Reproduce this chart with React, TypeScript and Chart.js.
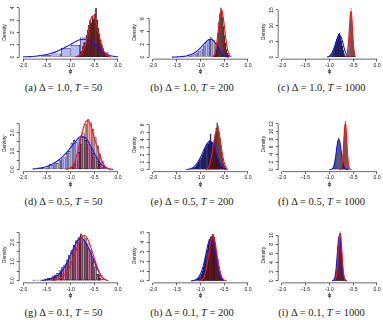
import React, { useEffect, useRef } from 'react';
import { Chart, registerables } from 'chart.js';

Chart.register(...registerables);

// ---------------- shared axis data ----------------
const xTicks = [-2, -1.5, -1, -0.5, 0];
const xTickLabels = ['-2.0', '-1.5', '-1.0', '-0.5', '0.0'];
const xMin = -2.08;
const xMax = 0.08;

// ---------------- (a) Delta = 1.0, T = 50 ----------------
const aBlueStart = -2.0, aBlueWidth = 0.2;
const aBlueHist = [0.05, 0.08, 0.15, 0.3, 0.75, 1.0, 1.6, 1.05, 0.45, 0.05];
const aRedStart = -0.875, aRedWidth = 0.025;
const aRedHist = [0.1, 0.15, 0.2, 0.4, 0.5, 0.9, 1.2, 1.0, 1.8, 2.2, 2.6, 3.0, 2.8, 3.3, 3.1, 3.5, 4.0, 3.0, 2.4, 1.9, 1.4, 1.0, 0.7, 0.4, 0.3, 0.15, 0.1];
const aBlueDensStart = -2.0, aBlueDensStep = 0.1;
const aBlueDens = [0.02, 0.04, 0.06, 0.1, 0.15, 0.22, 0.32, 0.45, 0.62, 0.82, 1.02, 1.25, 1.42, 1.45, 1.32, 1.05, 0.68, 0.38, 0.18, 0.07, 0.03];
const aRedDensStart = -0.9, aRedDensStep = 0.05;
const aRedDens = [0.02, 0.06, 0.15, 0.4, 0.85, 1.6, 2.6, 3.3, 3.35, 2.7, 1.8, 1.0, 0.5, 0.2, 0.08, 0.02];
const aYMax = 4.0;
const aYTicks = [0, 1, 2, 3, 4];
const aYLabels = ['0', '1', '2', '3', '4'];

// ---------------- (b) Delta = 1.0, T = 200 ----------------
const bBlueStart = -1.5, bBlueWidth = 0.05;
const bBlueHist = [0.05, 0.05, 0.1, 0.1, 0.15, 0.2, 0.3, 0.45, 0.7, 1.0, 1.35, 1.8, 2.3, 2.8, 3.1, 2.7, 2.2, 1.6, 0.9, 0.4, 0.15];
const bRedStart = -0.72, bRedWidth = 0.02;
const bRedHist = [0.2, 0.5, 1.2, 2.3, 3.8, 5.5, 6.8, 7.7, 7.3, 6.2, 4.8, 3.4, 2.2, 1.2, 0.6, 0.3, 0.1];
const bBlueDensStart = -1.6, bBlueDensStep = 0.05;
const bBlueDens = [0.01, 0.02, 0.04, 0.06, 0.09, 0.13, 0.19, 0.28, 0.4, 0.57, 0.8, 1.1, 1.45, 1.85, 2.25, 2.6, 2.78, 2.7, 2.35, 1.8, 1.15, 0.6, 0.25, 0.08, 0.02];
const bRedDensStart = -0.75, bRedDensStep = 0.025;
const bRedDens = [0.05, 0.2, 0.6, 1.4, 2.7, 4.3, 5.9, 7.0, 7.2, 6.4, 5.0, 3.4, 2.0, 1.0, 0.45, 0.15, 0.05];
const bYMax = 7.67;
const bYTicks = [0, 2, 4, 6];
const bYLabels = ['0', '2', '4', '6'];

// ---------------- (c) Delta = 1.0, T = 1000 ----------------
const cBlueStart = -1.04, cBlueWidth = 0.02;
const cBlueHist = [0.05, 0.15, 0.3, 0.6, 1.0, 1.7, 2.6, 3.6, 4.7, 5.8, 6.6, 7.3, 7.6, 6.6, 5.2, 3.6, 2.2, 1.1, 0.45, 0.15, 0.05];
const cRedStart = -0.64, cRedWidth = 0.01;
const cRedHist = [0.2, 0.5, 1.2, 2.4, 4.2, 6.5, 9.2, 12.0, 14.5, 15.6, 14.0, 11.5, 8.6, 5.8, 3.5, 1.8, 0.8, 0.3];
const cBlueDensStart = -1.05, cBlueDensStep = 0.025;
const cBlueDens = [0.05, 0.15, 0.35, 0.7, 1.3, 2.1, 3.1, 4.2, 5.3, 6.3, 6.9, 6.9, 6.2, 4.9, 3.4, 2.0, 0.95, 0.35, 0.1];
const cRedDensStart = -0.66, cRedDensStep = 0.01;
const cRedDens = [0.05, 0.15, 0.4, 0.9, 1.8, 3.2, 5.0, 7.2, 9.6, 12.0, 13.8, 14.6, 14.2, 12.6, 10.2, 7.6, 5.2, 3.2, 1.8, 0.9, 0.4, 0.15];
const cYMax = 16.1;
const cYTicks = [0, 5, 10, 15];
const cYLabels = ['0', '5', '10', '15'];

// ---------------- (d) Delta = 0.5, T = 50 ----------------
const dBlueStart = -1.8, dBlueWidth = 0.05;
const dBlueHist = [0.05, 0.0, 0.1, 0.1, 0.15, 0.1, 0.2, 0.3, 0.25, 0.4, 0.35, 0.5, 0.6, 0.7, 0.9, 1.0, 1.45, 1.6, 1.5, 1.7, 1.85, 1.8, 1.6, 1.4, 1.2, 0.9, 0.7, 0.45, 0.3, 0.15, 0.05];
const dRedStart = -1.15, dRedWidth = 0.05;
const dRedHist = [0.05, 0.05, 0.1, 0.15, 0.3, 0.55, 0.95, 1.4, 2.0, 2.45, 2.72, 2.55, 2.2, 1.75, 1.3, 0.85, 0.45, 0.15];
const dBlueDensStart = -1.8, dBlueDensStep = 0.1;
const dBlueDens = [0.03, 0.06, 0.1, 0.17, 0.27, 0.42, 0.62, 0.88, 1.18, 1.5, 1.78, 1.75, 1.4, 0.9, 0.45, 0.17, 0.05, 0.01];
const dRedDensStart = -1.1, dRedDensStep = 0.05;
const dRedDens = [0.02, 0.04, 0.1, 0.22, 0.5, 0.95, 1.5, 2.05, 2.48, 2.65, 2.55, 2.22, 1.75, 1.3, 0.9, 0.55, 0.28, 0.12, 0.04, 0.01];
const dYMax = 2.8;
const dYTicks = [0, 0.5, 1, 1.5, 2, 2.5];
const dYLabels = ['0.0', '', '1.0', '', '2.0', ''];

// ---------------- (e) Delta = 0.5, T = 200 ----------------
const eBlueStart = -1.25, eBlueWidth = 0.025;
const eBlueHist = [0.1, 0.1, 0.15, 0.2, 0.3, 0.4, 0.55, 0.8, 1.0, 1.3, 1.6, 2.0, 2.3, 2.8, 3.0, 3.4, 3.5, 3.9, 4.8, 3.7, 3.6, 3.1, 2.6, 2.1, 1.6, 1.1, 0.8, 0.5, 0.3, 0.15, 0.05];
const eRedStart = -0.86, eRedWidth = 0.02;
const eRedHist = [0.1, 0.25, 0.5, 0.9, 1.6, 2.4, 3.2, 4.0, 4.8, 5.6, 6.3, 5.9, 5.1, 4.3, 3.3, 2.4, 1.5, 0.9, 0.5, 0.2, 0.1];
const eBlueDensStart = -1.3, eBlueDensStep = 0.05;
const eBlueDens = [0.02, 0.06, 0.15, 0.32, 0.6, 1.05, 1.65, 2.35, 3.05, 3.6, 3.85, 3.6, 2.85, 1.85, 0.95, 0.38, 0.12, 0.03];
const eRedDensStart = -0.9, eRedDensStep = 0.025;
const eRedDens = [0.02, 0.06, 0.17, 0.4, 0.85, 1.5, 2.4, 3.4, 4.4, 5.1, 5.45, 5.3, 4.6, 3.6, 2.5, 1.6, 0.9, 0.45, 0.18, 0.06];
const eYMax = 6.67;
const eYTicks = [0, 1, 2, 3, 4, 5, 6];
const eYLabels = ['0', '1', '2', '3', '4', '5', '6'];

// ---------------- (f) Delta = 0.5, T = 1000 ----------------
const fBlueStart = -0.96, fBlueWidth = 0.01;
const fBlueHist = [0.06, 0.12, 0.21, 0.36, 0.6, 0.95, 1.43, 2.07, 2.87, 3.8, 4.83, 5.87, 7.0, 7.4, 8.1, 8.4, 7.9, 7.6, 6.83, 5.87, 4.83, 3.8, 2.87, 2.07, 1.43, 0.95, 0.6, 0.36, 0.21, 0.12, 0.06];
const fRedStart = -0.77, fRedWidth = 0.01;
const fRedHist = [0.11, 0.28, 0.64, 1.3, 2.4, 4.0, 6.1, 8.5, 10.6, 12.0, 12.7, 11.6, 9.8, 7.5, 5.3, 3.3, 1.9, 1.0, 0.46, 0.2];
const fBlueDensStart = -1.0, fBlueDensStep = 0.02;
const fBlueDens = [0.0, 0.02, 0.07, 0.21, 0.57, 1.3, 2.6, 4.4, 6.3, 7.65, 7.95, 7.05, 5.3, 3.4, 1.9, 0.88, 0.35, 0.12, 0.03, 0.01, 0.0];
const fRedDensStart = -0.8, fRedDensStep = 0.01;
const fRedDens = [0.0, 0.01, 0.03, 0.09, 0.22, 0.5, 1.04, 1.93, 3.28, 5.1, 7.3, 9.4, 11.1, 11.95, 11.75, 10.45, 8.55, 6.4, 4.4, 2.7, 1.53, 0.79, 0.37, 0.16, 0.06, 0.02, 0.01];
const fYMax = 13.4;
const fYTicks = [0, 2, 4, 6, 8, 10, 12];
const fYLabels = ['0', '2', '4', '6', '8', '10', '12'];

// ---------------- (g) Delta = 0.1, T = 50 ----------------
const gBlueStart = -1.8, gBlueWidth = 0.05;
const gBlueHist = [0.05, 0.05, 0.0, 0.05, 0.05, 0.1, 0.15, 0.15, 0.25, 0.3, 0.4, 0.55, 0.7, 0.85, 1.1, 1.35, 1.6, 1.85, 2.05, 2.2, 2.4, 2.1, 1.95, 1.7, 1.4, 1.05, 0.7, 0.35, 0.15];
const gRedStart = -1.8, gRedWidth = 0.05;
const gRedHist = [0.05, 0.0, 0.05, 0.05, 0.05, 0.1, 0.1, 0.15, 0.2, 0.25, 0.3, 0.4, 0.55, 0.75, 0.95, 1.2, 1.5, 1.8, 2.1, 2.3, 2.45, 2.35, 2.2, 1.95, 1.6, 1.15, 0.75, 0.35, 0.3, 0.1];
const gBlueDensStart = -1.6, gBlueDensStep = 0.05;
const gBlueDens = [0.02, 0.03, 0.05, 0.07, 0.1, 0.15, 0.22, 0.32, 0.45, 0.62, 0.83, 1.07, 1.35, 1.62, 1.88, 2.08, 2.18, 2.18, 2.05, 1.84, 1.58, 1.3, 1.0, 0.7, 0.44, 0.24, 0.1, 0.03];
const gRedDensStart = -1.4, gRedDensStep = 0.05;
const gRedDens = [0.02, 0.03, 0.05, 0.09, 0.15, 0.24, 0.37, 0.55, 0.8, 1.1, 1.45, 1.8, 2.1, 2.3, 2.35, 2.22, 1.95, 1.58, 1.18, 0.8, 0.48, 0.25, 0.11, 0.04, 0.01];
const gYMax = 2.69;
const gYTicks = [0, 0.5, 1, 1.5, 2, 2.5];
const gYLabels = ['0.0', '', '1.0', '', '2.0', ''];

// ---------------- (h) Delta = 0.1, T = 200 ----------------
const hBlueStart = -1.15, hBlueWidth = 0.025;
const hBlueHist = [0.05, 0.08, 0.12, 0.2, 0.3, 0.45, 0.7, 1.0, 1.4, 2.0, 2.6, 3.2, 3.8, 4.3, 4.5, 4.2, 3.7, 3.0, 2.3, 1.6, 1.05, 0.63, 0.35, 0.18];
const hRedStart = -1.05, hRedWidth = 0.025;
const hRedHist = [0.05, 0.1, 0.12, 0.2, 0.35, 0.6, 1.05, 1.7, 2.5, 3.35, 4.1, 4.65, 4.84, 4.55, 3.95, 3.15, 2.3, 1.55, 0.97, 0.55, 0.28];
const hBlueDensStart = -1.2, hBlueDensStep = 0.025;
const hBlueDens = [0.01, 0.02, 0.04, 0.07, 0.12, 0.2, 0.32, 0.5, 0.72, 1.02, 1.4, 1.88, 2.45, 3.05, 3.6, 4.05, 4.32, 4.32, 4.05, 3.52, 2.85, 2.13, 1.46, 0.92, 0.53, 0.28, 0.13, 0.05, 0.02];
const hRedDensStart = -1.05, hRedDensStep = 0.025;
const hRedDens = [0.01, 0.02, 0.04, 0.1, 0.22, 0.44, 0.8, 1.33, 2.04, 2.85, 3.65, 4.3, 4.67, 4.62, 4.2, 3.5, 2.67, 1.88, 1.2, 0.71, 0.38, 0.19, 0.09, 0.04, 0.01];
const hYMax = 5.16;
const hYTicks = [0, 1, 2, 3, 4, 5];
const hYLabels = ['0', '1', '2', '3', '4', '5'];

// ---------------- (i) Delta = 0.1, T = 1000 ----------------
const iBlueStart = -0.93, iBlueWidth = 0.01;
const iBlueHist = [0.05, 0.11, 0.23, 0.45, 0.81, 1.38, 2.2, 3.3, 4.7, 6.2, 7.7, 9.0, 9.9, 10.2, 9.9, 9.0, 7.7, 6.2, 4.7, 3.3, 2.2, 1.38, 0.81, 0.45, 0.23, 0.11, 0.05];
const iRedStart = -0.88, iRedWidth = 0.01;
const iRedHist = [0.28, 0.57, 1.05, 1.8, 2.9, 4.4, 6.05, 7.8, 9.4, 10.5, 10.85, 10.5, 9.4, 7.8, 6.05, 4.4, 2.9, 1.8, 1.05, 0.57, 0.28, 0.13, 0.05, 0.02];
const iBlueDensStart = -0.95, iBlueDensStep = 0.01;
const iBlueDens = [0.01, 0.02, 0.04, 0.1, 0.19, 0.37, 0.66, 1.14, 1.82, 2.74, 3.9, 5.3, 6.75, 8.0, 9.05, 9.63, 9.63, 9.05, 8.0, 6.75, 5.3, 3.9, 2.74, 1.82, 1.14, 0.66, 0.37, 0.19, 0.1, 0.04, 0.02, 0.01];
const iRedDensStart = -0.9, iRedDensStep = 0.01;
const iRedDens = [0.04, 0.1, 0.22, 0.45, 0.84, 1.47, 2.4, 3.6, 5.1, 6.7, 8.3, 9.5, 10.2, 10.2, 9.5, 8.3, 6.7, 5.1, 3.6, 2.4, 1.47, 0.84, 0.45, 0.22, 0.1, 0.04, 0.02, 0.01];
const iYMax = 11.26;
const iYTicks = [0, 2, 4, 6, 8, 10];
const iYLabels = ['0', '2', '4', '6', '8', '10'];

// ---------------- captions ----------------
const panelTags = ['a', 'b', 'c', 'd', 'e', 'f', 'g', 'h', 'i'];
const panelDeltas = ['1.0', '1.0', '1.0', '0.5', '0.5', '0.5', '0.1', '0.1', '0.1'];
const panelTs = ['50', '200', '1000', '50', '200', '1000', '50', '200', '1000'];

// ---------------- layout / style (not data) ----------------
const COL_LEFT = [19.2, 149.2, 278.2];
const PLOT_W = 102.6;
const ROW_BOTTOM = [59.15, 171.65, 282.85];
const PLOT_H = 58;
const CELL_X = [0, 128, 256];
const CELL_W = 127;
const CELL_Y = [0, 112, 223];
const CELL_H = 80;
const Y_AXIS_W = 18;
const X_AXIS_H = 16;
const TICK_LEN = 2.5;
const Y_LABEL_OFFSET = 6.8;
const CAPTION_X = [63.5, 192, 321.5];
const CAPTION_Y = [89.3, 203.3, 314];
const PX_PER_UNIT = PLOT_W / (xMax - xMin);

const SANS = '"Liberation Sans", Arial, sans-serif';
// wide bins: translucent fill with dark outline
const BLUE_FILL = 'rgba(0,0,255,0.28)';
const RED_FILL = 'rgba(255,0,0,0.30)';
// narrow bins: outlines dominate, giving a dark tinted mass
const BLUE_FILL_DENSE = 'rgb(30,30,105)';
const RED_FILL_DENSE = 'rgb(105,32,32)';
const BLUE_EDGE = 'rgb(10,10,45)';
const RED_EDGE = 'rgb(45,10,10)';
const AXIS_COLOR = 'rgba(0,0,0,0.85)';

type PanelDef = {
  idx: number;
  blueStart: number; blueWidth: number; blueHist: number[];
  redStart: number; redWidth: number; redHist: number[];
  blueDensStart: number; blueDensStep: number; blueDens: number[];
  redDensStart: number; redDensStep: number; redDens: number[];
  yMax: number; yTicks: number[]; yLabels: string[];
};

const PANELS: PanelDef[] = [
  { idx: 0, blueStart: aBlueStart, blueWidth: aBlueWidth, blueHist: aBlueHist, redStart: aRedStart, redWidth: aRedWidth, redHist: aRedHist, blueDensStart: aBlueDensStart, blueDensStep: aBlueDensStep, blueDens: aBlueDens, redDensStart: aRedDensStart, redDensStep: aRedDensStep, redDens: aRedDens, yMax: aYMax, yTicks: aYTicks, yLabels: aYLabels },
  { idx: 1, blueStart: bBlueStart, blueWidth: bBlueWidth, blueHist: bBlueHist, redStart: bRedStart, redWidth: bRedWidth, redHist: bRedHist, blueDensStart: bBlueDensStart, blueDensStep: bBlueDensStep, blueDens: bBlueDens, redDensStart: bRedDensStart, redDensStep: bRedDensStep, redDens: bRedDens, yMax: bYMax, yTicks: bYTicks, yLabels: bYLabels },
  { idx: 2, blueStart: cBlueStart, blueWidth: cBlueWidth, blueHist: cBlueHist, redStart: cRedStart, redWidth: cRedWidth, redHist: cRedHist, blueDensStart: cBlueDensStart, blueDensStep: cBlueDensStep, blueDens: cBlueDens, redDensStart: cRedDensStart, redDensStep: cRedDensStep, redDens: cRedDens, yMax: cYMax, yTicks: cYTicks, yLabels: cYLabels },
  { idx: 3, blueStart: dBlueStart, blueWidth: dBlueWidth, blueHist: dBlueHist, redStart: dRedStart, redWidth: dRedWidth, redHist: dRedHist, blueDensStart: dBlueDensStart, blueDensStep: dBlueDensStep, blueDens: dBlueDens, redDensStart: dRedDensStart, redDensStep: dRedDensStep, redDens: dRedDens, yMax: dYMax, yTicks: dYTicks, yLabels: dYLabels },
  { idx: 4, blueStart: eBlueStart, blueWidth: eBlueWidth, blueHist: eBlueHist, redStart: eRedStart, redWidth: eRedWidth, redHist: eRedHist, blueDensStart: eBlueDensStart, blueDensStep: eBlueDensStep, blueDens: eBlueDens, redDensStart: eRedDensStart, redDensStep: eRedDensStep, redDens: eRedDens, yMax: eYMax, yTicks: eYTicks, yLabels: eYLabels },
  { idx: 5, blueStart: fBlueStart, blueWidth: fBlueWidth, blueHist: fBlueHist, redStart: fRedStart, redWidth: fRedWidth, redHist: fRedHist, blueDensStart: fBlueDensStart, blueDensStep: fBlueDensStep, blueDens: fBlueDens, redDensStart: fRedDensStart, redDensStep: fRedDensStep, redDens: fRedDens, yMax: fYMax, yTicks: fYTicks, yLabels: fYLabels },
  { idx: 6, blueStart: gBlueStart, blueWidth: gBlueWidth, blueHist: gBlueHist, redStart: gRedStart, redWidth: gRedWidth, redHist: gRedHist, blueDensStart: gBlueDensStart, blueDensStep: gBlueDensStep, blueDens: gBlueDens, redDensStart: gRedDensStart, redDensStep: gRedDensStep, redDens: gRedDens, yMax: gYMax, yTicks: gYTicks, yLabels: gYLabels },
  { idx: 7, blueStart: hBlueStart, blueWidth: hBlueWidth, blueHist: hBlueHist, redStart: hRedStart, redWidth: hRedWidth, redHist: hRedHist, blueDensStart: hBlueDensStart, blueDensStep: hBlueDensStep, blueDens: hBlueDens, redDensStart: hRedDensStart, redDensStep: hRedDensStep, redDens: hRedDens, yMax: hYMax, yTicks: hYTicks, yLabels: hYLabels },
  { idx: 8, blueStart: iBlueStart, blueWidth: iBlueWidth, blueHist: iBlueHist, redStart: iRedStart, redWidth: iRedWidth, redHist: iRedHist, blueDensStart: iBlueDensStart, blueDensStep: iBlueDensStep, blueDens: iBlueDens, redDensStart: iRedDensStart, redDensStep: iRedDensStep, redDens: iRedDens, yMax: iYMax, yTicks: iYTicks, yLabels: iYLabels },
];

const histPoints = (start: number, width: number, heights: number[]) =>
  heights.map((h, i) => ({ x: start + width * (i + 0.5), y: h }));
const curvePoints = (start: number, step: number, ys: number[]) =>
  ys.map((y, i) => ({ x: start + step * i, y }));

let measureCtx: CanvasRenderingContext2D | null = null;
function measure(s: string, font: string) {
  if (!measureCtx) measureCtx = document.createElement('canvas').getContext('2d');
  if (!measureCtx) return s.length * 2.8;
  measureCtx.font = font;
  return measureCtx.measureText(s).width;
}

// R-style axis lines: drawn only between the first and last tick
const rAxisLines = {
  id: 'rAxisLines',
  afterDraw(chart: any) {
    const { ctx, chartArea, scales } = chart;
    const xs = scales.x, ys = scales.y;
    ctx.save();
    ctx.strokeStyle = AXIS_COLOR;
    ctx.lineWidth = 0.7;
    ctx.beginPath();
    const xt = xs.ticks;
    ctx.moveTo(xs.getPixelForValue(xt[0].value), chartArea.bottom);
    ctx.lineTo(xs.getPixelForValue(xt[xt.length - 1].value), chartArea.bottom);
    const yt = ys.ticks;
    ctx.moveTo(chartArea.left, ys.getPixelForValue(yt[0].value));
    ctx.lineTo(chartArea.left, ys.getPixelForValue(yt[yt.length - 1].value));
    ctx.stroke();
    ctx.restore();
  },
};

const isDense = (binWidth: number) => binWidth * PX_PER_UNIT < 2;

function histDataset(label: string, start: number, width: number, heights: number[], axis: string, fill: string, denseFill: string, edge: string, order: number) {
  const dense = isDense(width);
  return {
    type: 'bar',
    label,
    data: histPoints(start, width, heights),
    backgroundColor: dense ? denseFill : fill,
    borderColor: edge,
    borderWidth: dense ? 0.35 : 0.6,
    borderSkipped: false,
    inflateAmount: dense ? 0.2 : 0,
    barThickness: width * PX_PER_UNIT,
    grouped: false,
    xAxisID: axis,
    yAxisID: 'y',
    order,
  };
}

function buildConfig(p: PanelDef) {
  const col = p.idx % 3, row = Math.floor(p.idx / 3);
  const L = COL_LEFT[col], R = L + PLOT_W;
  const B = ROW_BOTTOM[row], T = B - PLOT_H;
  const cx = CELL_X[col], cy = CELL_Y[row];
  const padding = {
    left: L - cx - Y_AXIS_W,
    top: T - cy,
    right: cx + CELL_W - R,
    bottom: cy + CELL_H - B - X_AXIS_H,
  };
  const tickFont = { family: SANS, size: 5 };
  const widest = Math.max(...p.yLabels.map((s) => measure(s, `5px ${SANS}`)));
  const yPad = Y_LABEL_OFFSET - TICK_LEN - widest / 2;
  const setXTicks = (s: any) => { s.ticks = xTicks.map((v) => ({ value: v })); };
  const grid = { display: true, drawOnChartArea: false, drawTicks: true, tickLength: TICK_LEN, color: AXIS_COLOR, lineWidth: 0.7, offset: false };

  const lineCommon = {
    type: 'line',
    pointRadius: 0,
    borderWidth: 1.1,
    fill: false,
    cubicInterpolationMode: 'monotone',
    xAxisID: 'x',
    yAxisID: 'y',
  };

  return {
    type: 'bar',
    data: {
      datasets: [
        histDataset('blue histogram', p.blueStart, p.blueWidth, p.blueHist, 'x', BLUE_FILL, BLUE_FILL_DENSE, BLUE_EDGE, 4),
        histDataset('red histogram', p.redStart, p.redWidth, p.redHist, 'x2', RED_FILL, RED_FILL_DENSE, RED_EDGE, 3),
        { ...lineCommon, label: 'blue density', data: curvePoints(p.blueDensStart, p.blueDensStep, p.blueDens), borderColor: 'rgb(20,20,255)', order: 2 },
        { ...lineCommon, label: 'red density', data: curvePoints(p.redDensStart, p.redDensStep, p.redDens), borderColor: 'rgb(255,20,20)', order: 1 },
      ],
    },
    options: {
      responsive: false,
      animation: false,
      events: [],
      layout: { padding, autoPadding: false },
      plugins: { legend: { display: false }, tooltip: { enabled: false }, title: { display: false } },
      scales: {
        x: {
          type: 'linear', position: 'bottom', min: xMin, max: xMax, bounds: 'data', offset: false,
          afterBuildTicks: setXTicks,
          afterFit: (s: any) => { s.height = X_AXIS_H; },
          ticks: { callback: (_v: any, i: number) => xTickLabels[i], font: tickFont, color: '#111', padding: 0.8, maxRotation: 0, minRotation: 0, autoSkip: false },
          grid,
          border: { display: false },
          title: { display: true, text: 'ϕ', font: { family: '"DejaVu Sans", sans-serif', size: 6 }, color: '#111', padding: { top: 0, bottom: 0 } },
        },
        x2: {
          type: 'linear', display: false, min: xMin, max: xMax, bounds: 'data', offset: false,
          afterBuildTicks: setXTicks,
          grid: { offset: false },
        },
        y: {
          type: 'linear', position: 'left', min: -0.04 * p.yMax, max: 1.04 * p.yMax, bounds: 'data',
          afterBuildTicks: (s: any) => { s.ticks = p.yTicks.map((v) => ({ value: v })); },
          afterFit: (s: any) => { s.width = Y_AXIS_W; },
          ticks: { callback: (_v: any, i: number) => p.yLabels[i], font: tickFont, color: '#111', padding: yPad, minRotation: 90, maxRotation: 90, crossAlign: 'center', autoSkip: false },
          grid,
          border: { display: false },
          title: { display: true, text: 'Density', font: { family: SANS, size: 5 }, color: '#111', padding: { top: 0.5, bottom: 0 } },
        },
      },
    },
    plugins: [rAxisLines],
  };
}

function Panel({ p }: { p: PanelDef }) {
  const ref = useRef<HTMLCanvasElement>(null);
  useEffect(() => {
    const canvas = ref.current;
    if (!canvas) return;
    const chart = new Chart(canvas, buildConfig(p) as any);
    return () => chart.destroy();
  }, [p]);
  const col = p.idx % 3, row = Math.floor(p.idx / 3);
  return (
    <canvas
      ref={ref}
      width={CELL_W}
      height={CELL_H}
      style={{ position: 'absolute', left: CELL_X[col], top: CELL_Y[row], width: CELL_W, height: CELL_H }}
    />
  );
}

function Caption({ idx }: { idx: number }) {
  const col = idx % 3, row = Math.floor(idx / 3);
  return (
    <div
      style={{
        position: 'absolute',
        left: CAPTION_X[col] - 70,
        top: CAPTION_Y[row] - 8,
        width: 140,
        textAlign: 'center',
        fontFamily: '"Liberation Serif", "Times New Roman", serif',
        fontWeight: 400,
        fontSize: 10.5,
        lineHeight: '14px',
        whiteSpace: 'nowrap',
        color: '#222',
      }}
    >
      ({panelTags[idx]}) Δ = {panelDeltas[idx]}, <i>T</i> = {panelTs[idx]}
    </div>
  );
}

export default function App() {
  return (
    <div style={{ position: 'absolute', left: 0, top: 0, width: 383, height: 320, overflow: 'hidden', background: '#fff' }}>
      {PANELS.map((p) => (
        <Panel key={p.idx} p={p} />
      ))}
      {PANELS.map((p) => (
        <Caption key={'c' + p.idx} idx={p.idx} />
      ))}
    </div>
  );
}
